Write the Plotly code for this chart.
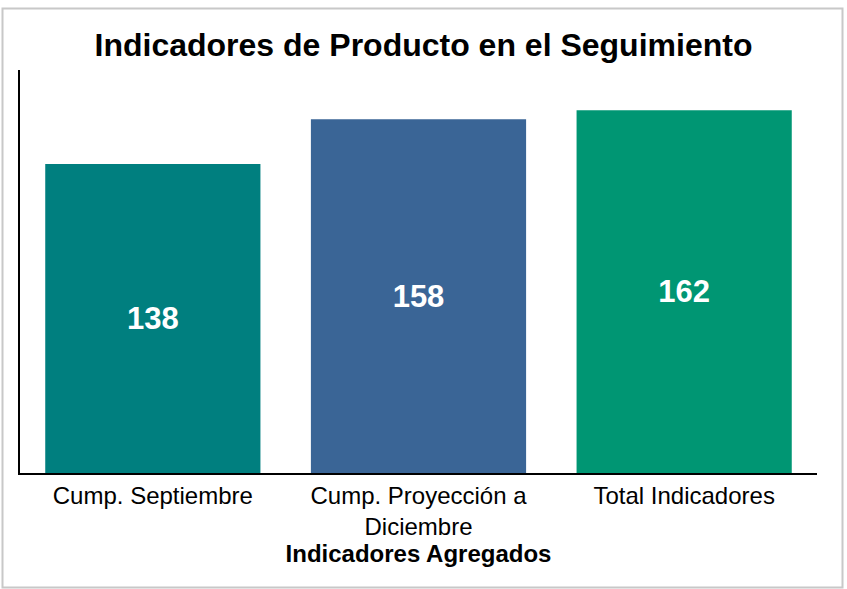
import plotly.graph_objects as go

categories = ["Cump. Septiembre", "Cump. Proyección a<br>Diciembre", "Total Indicadores"]
values = [138, 158, 162]
colors = ["#007F7F", "#3A6596", "#009673"]

W, H = 847, 589
ml, mr, mt, mb = 20, 30, 70, 116
pw, ph = W - ml - mr, H - mt - mb

fig = go.Figure(go.Bar(
    x=categories, y=values, marker=dict(color=colors, line=dict(width=0)),
    text=[str(v) for v in values], textposition="inside", insidetextanchor="middle",
    textfont=dict(family="Liberation Sans, Arial", size=31, color="white", weight="bold"),
    textangle=0, hoverinfo="skip",
))

def px(x):
    return (x - ml) / pw

def py(y):
    return (H - mb - y) / ph

fig.update_layout(
    width=W, height=H, margin=dict(l=ml, r=mr, t=mt, b=mb),
    paper_bgcolor="white", plot_bgcolor="white",
    bargap=0.19, showlegend=False,
    font=dict(family="Liberation Sans, Arial", color="black"),
    title=dict(text="<b>Indicadores de Producto en el Seguimiento</b>", x=0.5, xanchor="center",
               y=1 - 45 / H, yanchor="middle", font=dict(size=32, color="black")),
    xaxis=dict(showline=True, linecolor="black", linewidth=1.5, ticks="", showgrid=False,
               tickfont=dict(size=24), title=dict(text="<b>Indicadores Agregados</b>",
               font=dict(size=24), standoff=3)),
    yaxis=dict(range=[0, 180], showline=True, linecolor="black", linewidth=1.5, ticks="",
               showticklabels=False, showgrid=False, zeroline=False),
    shapes=[dict(type="rect", xref="paper", yref="paper", x0=px(2.5), x1=px(842.5),
                 y0=py(587.5), y1=py(8.5), line=dict(color="#c8c8c8", width=2), layer="below")],
)

fig.write_html("out.html", config={"displayModeBar": False},
               post_script="document.body.style.margin='0';document.body.style.overflow='hidden';")
